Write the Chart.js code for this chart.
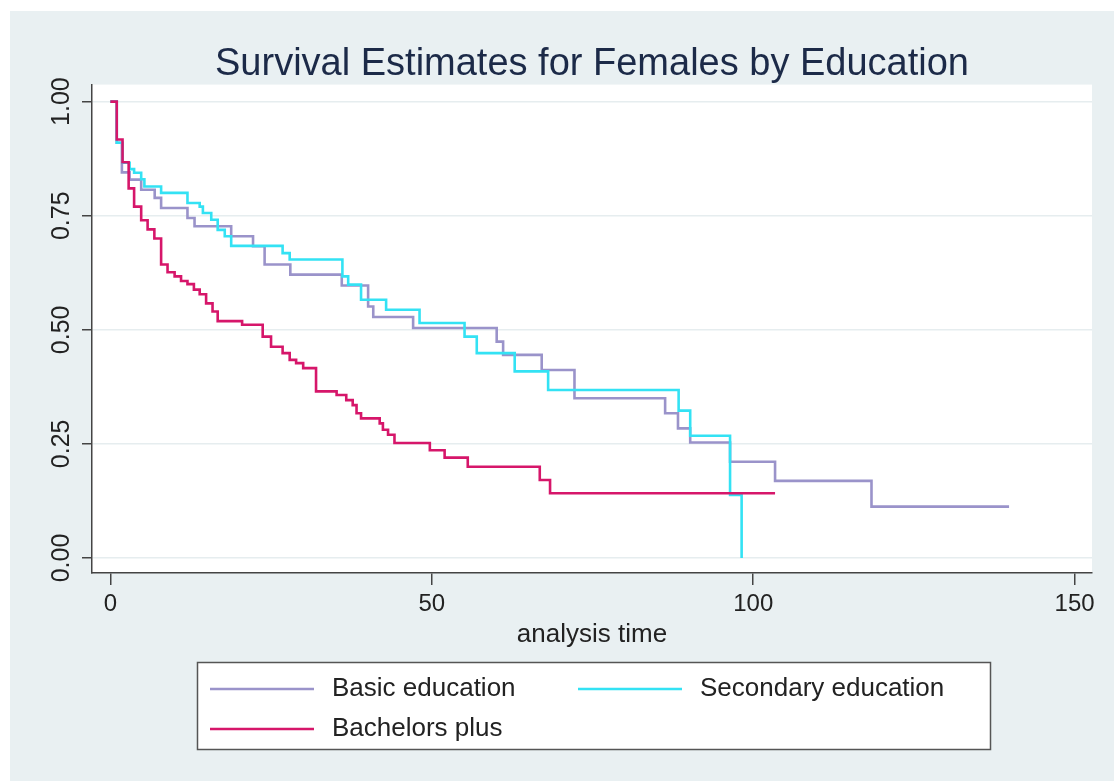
<!DOCTYPE html>
<html>
<head>
<meta charset="utf-8">
<script src="https://cdn.jsdelivr.net/npm/chart.js@4.4.1/dist/chart.umd.min.js"></script>
<style>
  body { margin: 0; background: #fff; }
  canvas { display: block; }
</style>
</head>
<body>
<canvas id="survivalChart" width="1114" height="781"></canvas>
<script>
// Kaplan-Meier estimates: time of each step and survival after it
const basicTime = [0, 1.0, 1.8, 3.0, 4.8, 6.9, 7.9, 12.0, 13.1, 18.8, 22.2, 24.0, 28.0, 36.0, 40.1, 40.9, 47.1, 60.1, 61.1, 67.1, 72.2, 86.3, 88.3, 90.2, 96.4, 103.4, 118.4, 139.8]
const basicSurv = [1.0, 0.91, 0.845, 0.829, 0.807, 0.789, 0.767, 0.745, 0.727, 0.705, 0.683, 0.643, 0.621, 0.597, 0.551, 0.528, 0.504, 0.474, 0.445, 0.412, 0.35, 0.317, 0.284, 0.253, 0.211, 0.169, 0.1125, 0.1125]

const secondaryTime = [0, 1.0, 1.9, 3.0, 3.7, 4.8, 5.3, 7.9, 12.0, 13.9, 14.4, 15.7, 16.7, 17.8, 18.8, 26.8, 27.9, 36.1, 37.0, 39.0, 42.9, 48.1, 55.1, 57.0, 62.9, 68.1, 88.4, 90.2, 96.4, 98.2]
const secondarySurv = [1.0, 0.91, 0.866, 0.852, 0.844, 0.83, 0.814, 0.80, 0.778, 0.77, 0.756, 0.741, 0.719, 0.705, 0.684, 0.668, 0.654, 0.617, 0.599, 0.566, 0.544, 0.515, 0.485, 0.449, 0.409, 0.368, 0.323, 0.268, 0.138, 0.0]

const bachelorsTime = [0, 1.0, 1.9, 2.85, 3.7, 4.8, 5.8, 6.85, 7.9, 8.9, 10.0, 11.0, 12.0, 13.0, 13.9, 14.9, 15.9, 16.7, 20.5, 23.7, 25.0, 26.8, 27.9, 28.9, 30.0, 32.0, 35.2, 36.7, 37.7, 38.3, 39.0, 41.9, 42.4, 43.2, 44.2, 49.7, 52.0, 55.6, 66.8, 68.4, 103.4]
const bachelorsSurv = [1.0, 0.917, 0.867, 0.81, 0.77, 0.74, 0.72, 0.70, 0.643, 0.626, 0.617, 0.607, 0.60, 0.588, 0.578, 0.558, 0.54, 0.519, 0.511, 0.485, 0.463, 0.449, 0.434, 0.427, 0.416, 0.365, 0.357, 0.346, 0.335, 0.317, 0.306, 0.295, 0.281, 0.27, 0.252, 0.236, 0.22, 0.20, 0.171, 0.142, 0.142]

const seriesNames = ['Basic education', 'Secondary education', 'Bachelors plus']
const seriesColors = ['#9a93ca', '#33e2f4', '#d6166a']
const xTicks = [0, 50, 100, 150]
const yTicks = [0, 0.25, 0.5, 0.75, 1]

const fontFamily = '"Liberation Sans", Arial, sans-serif'

function toPoints(times, surv) {
    return times.map((t, i) => ({ x: t, y: surv[i] }))
}

const bgPlugin = {
    id: 'stataBackground',
    beforeDraw(chart) {
        const ctx = chart.ctx
        const a = chart.chartArea
        ctx.save()
        ctx.fillStyle = '#ffffff'
        ctx.fillRect(0, 0, chart.width, chart.height)
        ctx.fillStyle = '#e9f0f2'
        ctx.fillRect(10, 11, chart.width - 10, chart.height - 11)
        ctx.fillStyle = '#ffffff'
        ctx.fillRect(a.left, a.top, a.right - a.left, a.bottom - a.top)
        ctx.restore()
    }
}

// boxed two-column legend like Stata's
const legendPlugin = {
    id: 'boxLegend',
    afterDraw(chart) {
        const ctx = chart.ctx
        const slots = [[210, 689], [578, 689], [210, 729]]
        ctx.save()
        ctx.fillStyle = '#ffffff'
        ctx.fillRect(197, 662, 793, 87)
        ctx.strokeStyle = '#555555'
        ctx.lineWidth = 1.5
        ctx.strokeRect(197.5, 662.5, 793, 87)
        ctx.font = '26px ' + fontFamily
        ctx.textBaseline = 'middle'
        chart.data.datasets.forEach((ds, i) => {
            const [x, y] = slots[i]
            ctx.strokeStyle = ds.borderColor
            ctx.lineWidth = 2.5
            ctx.beginPath()
            ctx.moveTo(x, y)
            ctx.lineTo(x + 104, y)
            ctx.stroke()
            ctx.fillStyle = '#222222'
            ctx.fillText(ds.label, x + 122, y)
        })
        ctx.restore()
    }
}

const ctx = document.getElementById('survivalChart').getContext('2d')
new Chart(ctx, {
    type: 'line',
    data: {
        datasets: [
            { label: seriesNames[0], data: toPoints(basicTime, basicSurv), order: 2 },
            { label: seriesNames[1], data: toPoints(secondaryTime, secondarySurv), order: 1 },
            { label: seriesNames[2], data: toPoints(bachelorsTime, bachelorsSurv), order: 0 }
        ].map((ds, i) => Object.assign(ds, {
            borderColor: seriesColors[i],
            backgroundColor: seriesColors[i],
            borderWidth: 2.6,
            pointRadius: 0,
            fill: false,
            stepped: 'before'
        }))
    },
    options: {
        responsive: false,
        animation: false,
        devicePixelRatio: 1,
        layout: { padding: { left: 10, right: 22, top: 0, bottom: 128 } },
        plugins: {
            legend: { display: false },
            tooltip: { enabled: false },
            title: {
                display: true,
                fullSize: false,
                text: 'Survival Estimates for Females by Education',
                color: '#1c2a48',
                font: { family: fontFamily, size: 38, weight: 'normal' },
                padding: { top: 42, bottom: -3 }
            }
        },
        scales: {
            x: {
                type: 'linear',
                min: -2.85,
                max: 152.7,
                afterBuildTicks: s => { s.ticks = xTicks.map(v => ({ value: v })) },
                afterFit: s => { s.height = 80 },
                grid: { drawOnChartArea: false, tickLength: 12, tickColor: '#444', lineWidth: 1.5 },
                border: { color: '#444', width: 1.5 },
                ticks: {
                    color: '#222',
                    padding: 5,
                    maxRotation: 0,
                    font: { family: fontFamily, size: 24 }
                },
                title: {
                    display: true,
                    text: 'analysis time',
                    color: '#222',
                    font: { family: fontFamily, size: 26 },
                    padding: { top: 0, bottom: 3 }
                }
            },
            y: {
                type: 'linear',
                min: -0.0329,
                max: 1.0373,
                afterBuildTicks: s => { s.ticks = yTicks.map(v => ({ value: v })) },
                afterFit: s => { s.width = 82 },
                grid: { color: '#e6edef', lineWidth: 1.5, tickLength: 10, tickColor: '#444' },
                border: { color: '#444', width: 1.5 },
                ticks: {
                    color: '#222',
                    padding: -4,
                    minRotation: 90,
                    maxRotation: 90,
                    crossAlign: 'center',
                    font: { family: fontFamily, size: 25 },
                    callback: v => v.toFixed(2)
                }
            }
        }
    },
    plugins: [bgPlugin, legendPlugin]
})
</script>
</body>
</html>
